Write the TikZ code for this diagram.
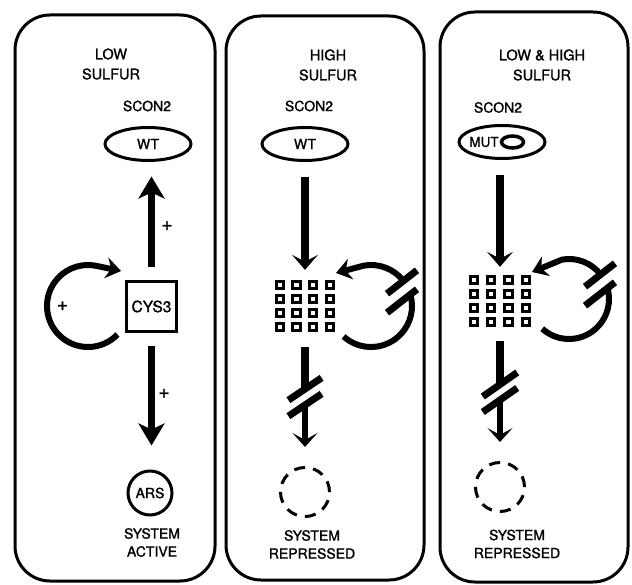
\documentclass[tikz,border=0pt]{standalone}
\usepackage{fontspec}
\setmainfont{TeX Gyre Heros}[RawFeature={embolden=1.3}]
\usetikzlibrary{shapes.geometric,arrows.meta,calc}
\begin{document}
\begin{tikzpicture}[x=1pt,y=1pt,
  panel/.style={draw, line width=3pt, rounded corners=35pt},
  ttl/.style={font=\fontsize{14.5}{20}\selectfont, align=center, inner sep=0pt},
  lbl/.style={font=\fontsize{14}{18}\selectfont, align=center, inner sep=0pt},
  gene/.style={draw, ellipse, line width=3pt, minimum width=86pt, minimum height=33pt, inner sep=0pt, font=\fontsize{14}{16}\selectfont},
  boxnode/.style={draw, line width=3pt, minimum size=50pt, inner sep=0pt, font=\fontsize{15.5}{16}\selectfont},
  ring/.style={draw, circle, line width=3pt, minimum size=44pt, inner sep=0pt, font=\fontsize{14}{16}\selectfont},
  dashring/.style={draw, circle, line width=3pt, minimum size=49pt, inner sep=0pt, dash pattern=on 11pt off 8.2pt},
  gridbox/.style={inner sep=0pt, minimum width=60pt, minimum height=52pt},
  dot/.style={draw, line width=3pt, minimum width=7.2pt, minimum height=6.8pt, inner sep=0pt},
  bigarrow/.style={line width=7.5pt, -{Stealth[length=22pt,width=26pt,inset=6pt]}},
  midarrow/.style={line width=7.5pt, -{Stealth[length=15pt,width=26pt,inset=7pt]}},
  shaft/.style={line width=7.5pt},
  lowarrow/.style={line width=5.5pt, -{Stealth[length=14pt,width=25pt,inset=7pt]}},
  loopline/.style={line width=6pt},
  looparrow/.style={line width=6pt, -{Stealth[length=15pt,width=21pt,inset=5pt]}},
  blockbar/.style={line width=7pt},
  plus/.style={font=\fontsize{19}{19}\selectfont, inner sep=0pt}
]
\useasboundingbox (0,0) rectangle (632,584);

% panels
\draw[panel] (15,3) rectangle (215,569);
\draw[panel] (226,4) rectangle (424,568);
\draw[panel] (440,2) rectangle (628,572);

% ---------- panel 1: low sulfur ----------
\node[ttl] (t1) at (111,520) {LOW\\SULFUR};
\node[lbl] (s1) at (147,478) {SCON2};
\node[gene] (wt1) at (148,440) {WT};
\node[boxnode] (cys) at (151.5,277.5) {CYS3};
\node[ring] (ars) at (150,91) {ARS};
\node[lbl] (sa) at (152,41.5) {SYSTEM\\ACTIVE};
\draw[bigarrow, shorten <=13pt, shorten >=14.5pt] (cys.north) -- (cys.north |- wt1.south);
\draw[bigarrow, shorten <=13.5pt, shorten >=24pt] (cys.south) -- (cys.south |- ars.north);
\node[plus] (p1a) at (167,358) {+};
\node[plus] (p1b) at (164,190.5) {+};
\coordinate (l1) at (88,278);
\coordinate (l1t) at (121,313);
\draw[looparrow] (l1) ++(-44:41pt) arc[start angle=-44, end angle=-280, radius=41pt] -- (l1t);
\node[plus] (p1c) at (62.5,278) {+};

% ---------- panel 2: high sulfur ----------
\node[ttl] (t2) at (328,519) {HIGH\\SULFUR};
\node[lbl] (s2) at (309,478) {SCON2};
\node[gene] (wt2) at (305,440) {WT};
\node[gridbox] (g2) at (305,278) {};
\foreach \i in {0,...,3}{\foreach \j in {0,...,3}{
  \node[dot] (g2-\i-\j) at ($(g2.north west)+(5+16.7*\i,-5-14*\j)$) {};}}
\draw[midarrow, shorten <=15pt, shorten >=10pt] (wt2.south) -- (g2.north);
\coordinate (b2u) at (305,195);
\coordinate (b2l) at (305,179);
\node[dashring] (dc2) at (305,92) {};
\draw[shaft, shorten <=15pt] (g2.south) -- (b2u);
\draw[lowarrow, shorten >=19pt] (b2l) -- (dc2.north);
\draw[blockbar] (b2u) ++(214:20pt) -- ++(34:40pt);
\draw[blockbar] (b2l) ++(214:20pt) -- ++(34:40pt);
\coordinate (l2) at (371,278);
\coordinate (l2t) at (336,311);
\draw[loopline] (l2) ++(-132:41pt) arc[start angle=-132, end angle=15, radius=41pt];
\draw[looparrow] (l2) ++(38:41pt) arc[start angle=38, end angle=100, radius=41pt] -- (l2t);
\draw[blockbar] ($(l2)+(31,24)$) ++(218:19pt) -- ++(38:38pt);
\draw[blockbar] ($(l2)+(31,5)$) ++(218:19pt) -- ++(38:38pt);
\node[lbl] (sr2) at (312,39.5) {SYSTEM\\REPRESSED};

% ---------- panel 3: low & high sulfur ----------
\node[ttl] (t3) at (542,519) {LOW \& HIGH\\SULFUR};
\node[lbl] (s3) at (498,476.5) {SCON2};
\node[gene] (mut) at (502,442) {};
\node[lbl, font=\fontsize{13.5}{16}\selectfont] (mutt) at (484,442) {MUT};
\node[draw, ellipse, line width=3.5pt, minimum width=22pt, minimum height=12pt, inner sep=0pt] (mutin) at (512.5,442) {};
\node[gridbox, minimum width=62pt] (g3) at (500,283) {};
\foreach \i in {0,...,3}{\foreach \j in {0,...,3}{
  \node[dot] (g3-\i-\j) at ($(g3.north west)+(5+17.3*\i,-5-14*\j)$) {};}}
\draw[midarrow, shorten <=15pt, shorten >=8pt] (mut.south -| g3.north) -- (g3.north);
\coordinate (b3u) at (500,199.5);
\coordinate (b3l) at (500,184);
\node[dashring] (dc3) at (500,97) {};
\draw[shaft, shorten <=14pt] (g3.south) -- (b3u);
\draw[lowarrow, shorten >=19pt] (b3l) -- (dc3.north);
\draw[blockbar] (b3u) ++(215:21pt) -- ++(35:42pt);
\draw[blockbar] (b3l) ++(215:21pt) -- ++(35:42pt);
\coordinate (l3) at (569,285);
\coordinate (l3t) at (532,312);
\draw[loopline] (l3) ++(-132:40pt) arc[start angle=-132, end angle=15, radius=40pt];
\draw[looparrow] (l3) ++(38:40pt) arc[start angle=38, end angle=100, radius=40pt] -- (l3t);
\draw[blockbar] ($(l3)+(31,24)$) ++(218:19pt) -- ++(38:38pt);
\draw[blockbar] ($(l3)+(31,5)$) ++(218:19pt) -- ++(38:38pt);
\node[lbl] (sr3) at (517,40) {SYSTEM\\REPRESSED};
\end{tikzpicture}
\end{document}
